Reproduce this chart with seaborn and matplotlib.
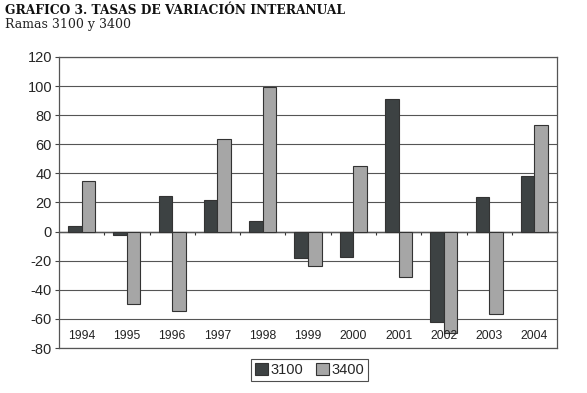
import numpy as np
import pandas as pd
import matplotlib
matplotlib.use("Agg")
import matplotlib.pyplot as plt
import seaborn as sns

# datos
years = ['1994', '1995', '1996', '1997', '1998', '1999', '2000', '2001', '2002', '2003', '2004']
rama_3100 = [4, -2, 24.7, 21.8, 7.6, -18.3, -17.6, 91.2, -62.3, 24.1, 38.5]
rama_3400 = [34.8, -49.7, -54.3, 63.7, 99.4, -23.6, 44.9, -30.9, -69.6, -56.6, 73.3]
series = ['3100', '3400']
yticks = list(range(-80, 121, 20))

df = pd.DataFrame({
    'year': years * 2,
    'rama': [series[0]] * len(years) + [series[1]] * len(years),
    'valor': rama_3100 + rama_3400,
})

sns.set_style("white")
plt.rcParams['font.family'] = ['Liberation Sans', 'DejaVu Sans']

fig = plt.figure(figsize=(5.87, 3.93), dpi=100)
ax = fig.add_axes([0.1005, 0.1145, 0.8485, 0.7405])

sns.barplot(data=df, x='year', y='valor', hue='rama', order=years, hue_order=series,
            palette={'3100': '#3c4244', '3400': '#a6a6a6'}, width=0.6,
            edgecolor='#333333', linewidth=0.8, ax=ax, zorder=3)

ax.set_ylim(-80, 120)
ax.set_xlim(-0.5, len(years) - 0.5)
ax.set_yticks(yticks)
ax.set_yticklabels([str(t) for t in yticks], fontsize=10.5)
ax.tick_params(axis='y', length=3, width=0.8, color='#444444', pad=2, left=True)
ax.set_xticks([])
ax.set_xlabel('')
ax.set_ylabel('')
for t in yticks:
    ax.axhline(t, color='#555555', linewidth=0.8, zorder=1)
for s in ax.spines.values():
    s.set_color('#555555')
    s.set_linewidth(0.9)

# eje en el cero con marcas entre categorías
zero_ax = ax.secondary_xaxis(80 / 200)
zero_ax.set_xticks(np.arange(0.5, len(years) - 1, 1.0))
zero_ax.set_xticklabels([])
zero_ax.tick_params(length=2, width=0.8, color='#333333', direction='out')
zero_ax.spines['bottom'].set_color('#333333')
zero_ax.spines['bottom'].set_linewidth(1.0)

# etiquetas de año dentro del área
for i, y in enumerate(years):
    ax.text(i, -71.5, y, ha='center', va='center', fontsize=8.7, color='#222222', zorder=5)

handles, labels = ax.get_legend_handles_labels()
ax.get_legend().remove()
leg = fig.legend(handles, labels, loc='center', bbox_to_anchor=(0.527, 0.059), ncol=2,
                 frameon=True, fancybox=False, edgecolor='#222222', fontsize=10.5,
                 handlelength=0.9, handleheight=0.9, handletextpad=0.15,
                 columnspacing=0.9, borderpad=0.25)
leg.get_frame().set_linewidth(0.8)

fig.text(0.009, 0.99, 'GRAFICO 3. TASAS DE VARIACIÓN INTERANUAL', ha='left', va='top',
         fontsize=8.8, fontweight='bold', family='DejaVu Serif', color='#111111')
fig.text(0.009, 0.953, 'Ramas 3100 y 3400', ha='left', va='top',
         fontsize=9, family='DejaVu Serif', color='#222222')

fig.savefig('out.png', dpi=100)
